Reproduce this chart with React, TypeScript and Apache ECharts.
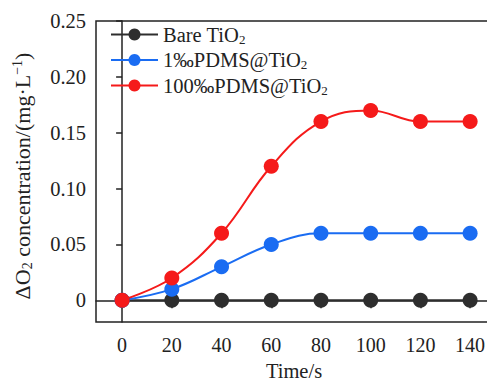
import React, { useEffect, useRef } from "react";
import * as echarts from "echarts";

const times = [0, 20, 40, 60, 80, 100, 120, 140];
const seriesNames = ["Bare TiO2", "1‰PDMS@TiO2", "100‰PDMS@TiO2"];
const bareValues = [0, 0, 0, 0, 0, 0, 0, 0];
const pdms1Values = [0, 0.01, 0.03, 0.05, 0.06, 0.06, 0.06, 0.06];
const pdms100Values = [0, 0.02, 0.06, 0.12, 0.16, 0.17, 0.16, 0.16];
const xTicks = [0, 20, 40, 60, 80, 100, 120, 140];
const yTicks = [0, 0.05, 0.1, 0.15, 0.2, 0.25];
const yTickLabels = ["0", "0.05", "0.10", "0.15", "0.20", "0.25"];
const colors = ["#2e2e2e", "#1a6cf2", "#f51a1a"];

const FONT = "'Liberation Serif', 'Times New Roman', serif";

export default function App() {
  const ref = useRef<HTMLDivElement>(null);
  useEffect(() => {
    document.body.style.margin = "0";
    const chart = echarts.init(ref.current!, null, { renderer: "svg" });
    const allValues = [bareValues, pdms1Values, pdms100Values];
    const option: any = {
      animation: false,
      backgroundColor: "#fff",
      textStyle: { fontFamily: FONT },
      grid: {
        left: 96,
        top: 21,
        width: 396,
        height: 301,
        show: true,
        borderColor: "#222",
        borderWidth: 1.5,
        outerBoundsMode: "none",
        containLabel: false,
      },
      legend: {
        orient: "vertical",
        left: 110,
        top: 24,
        padding: 0,
        itemWidth: 47,
        itemHeight: 15,
        itemGap: 4,
        data: seriesNames,
        formatter: (name: string) => {
          const base = name.replace(/2$/, "");
          return `{t|${base}}{s|2}`;
        },
        textStyle: {
          color: "#222",
          fontFamily: FONT,
          rich: {
            t: { fontFamily: FONT, fontSize: 20.5, lineHeight: 22, color: "#222" },
            s: { fontFamily: FONT, fontSize: 13, padding: [9, 0, 0, 0], color: "#222" },
          },
        },
      },
      xAxis: {
        type: "value",
        min: -10.5,
        max: 148.8,
        name: "Time/s",
        nameLocation: "middle",
        nameGap: 38,
        nameTextStyle: { fontFamily: FONT, fontSize: 20.5, color: "#222" },
        axisLine: { show: true, lineStyle: { color: "#222", width: 1.5 } },
        axisTick: {
          show: true,
          inside: false,
          length: 8,
          customValues: xTicks,
          lineStyle: { color: "#222", width: 1.5 },
        },
        axisLabel: {
          customValues: xTicks,
          margin: 13,
          fontFamily: FONT,
          fontSize: 20,
          color: "#222",
        },
        splitLine: { show: false },
      },
      yAxis: {
        type: "value",
        min: -0.0194,
        max: 0.25,
        axisLine: { show: true, lineStyle: { color: "#222", width: 1.5 } },
        axisTick: {
          show: true,
          inside: false,
          length: 6,
          customValues: yTicks,
          lineStyle: { color: "#222", width: 1.5 },
        },
        axisLabel: {
          customValues: yTicks,
          margin: 10,
          fontFamily: FONT,
          fontSize: 20.5,
          color: "#222",
          formatter: (v: number) => {
            const i = yTicks.findIndex((t) => Math.abs(t - v) < 1e-9);
            return i >= 0 ? yTickLabels[i] : "";
          },
        },
        splitLine: { show: false },
      },
      graphic: [
        {
          type: "text",
          x: 22,
          y: 176,
          rotation: Math.PI / 2,
          style: {
            text: "ΔO{s|2} concentration/(mg·L{p|−1})",
            fontFamily: FONT,
            fontSize: 22,
            fill: "#222",
            align: "center",
            verticalAlign: "middle",
            rich: {
              s: { fontFamily: FONT, fontSize: 14, padding: [10, 0, 0, 0], fill: "#222" },
              p: { fontFamily: FONT, fontSize: 14, padding: [0, 0, 10, 0], fill: "#222" },
            },
          },
        },
      ],
      series: seriesNames.map((name, i) => ({
        name,
        type: "line",
        smooth: 0.4,
        symbol: "circle",
        symbolSize: 15,
        color: colors[i],
        lineStyle: { color: colors[i], width: 2 },
        itemStyle: { color: colors[i] },
        data: times.map((t, j) => [t, allValues[i][j]]),
      })),
    };
    chart.setOption(option);
    return () => chart.dispose();
  }, []);
  return <div ref={ref} style={{ width: 487, height: 381 }} />;
}
